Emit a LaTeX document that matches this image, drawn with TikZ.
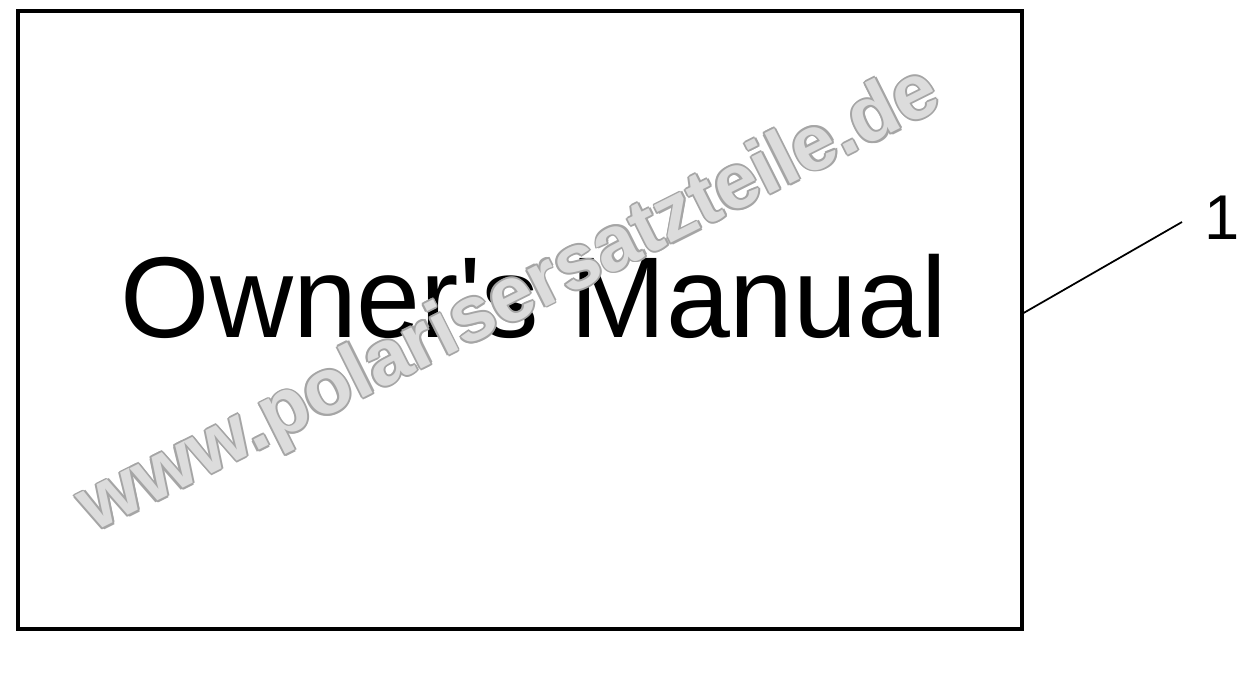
\documentclass[tikz,border=0pt]{standalone}
\usepackage{fontspec}
\setmainfont{Liberation Sans}
\usepackage{xcolor}
\usetikzlibrary{positioning,calc}
\definecolor{wm}{RGB}{220,220,220}
\definecolor{wmedge}{RGB}{165,165,165}

\begin{document}
\begin{tikzpicture}[
            box_style/.style={
                draw, line width=0.9pt,
                minimum width=10.04cm, minimum height=6.18cm,
                inner sep=0pt
            },
            title_style/.style={font=\fontsize{32.7}{36}\selectfont, anchor=base},
            mark_style/.style={font=\bfseries\fontsize{22.2}{24}\selectfont, rotate=26.6, inner sep=0pt},
            leader_style/.style={line width=0.5pt}
        ]
        \useasboundingbox (0,0) rectangle (12.56,6.95);

        % Sheet
        \node[box_style] (manual) at (5.20,3.75) {};
        \node[title_style] (title) at (5.34,3.58) {Owner\textquotesingle s Manual};

        % Watermark (outline by shifted copies)
        \foreach \ang in {0,45,...,315}
            \node[mark_style, text=wmedge] at ($(5.10,3.03)+(0,0.9)+(\ang:0.55pt)$) {www.polarisersatzteile.de};
        \node[mark_style, text=wm] (mark) at (5.10,3.93) {www.polarisersatzteile.de};

        % Callout
        \coordinate (tip) at (11.82,4.73);
        \node[font=\fontsize{18}{20}\selectfont] (num) at (12.22,4.77) {1};
        \draw[leader_style] ([yshift=0.07cm]manual.east) -- (tip);
\end{tikzpicture}
\end{document}
